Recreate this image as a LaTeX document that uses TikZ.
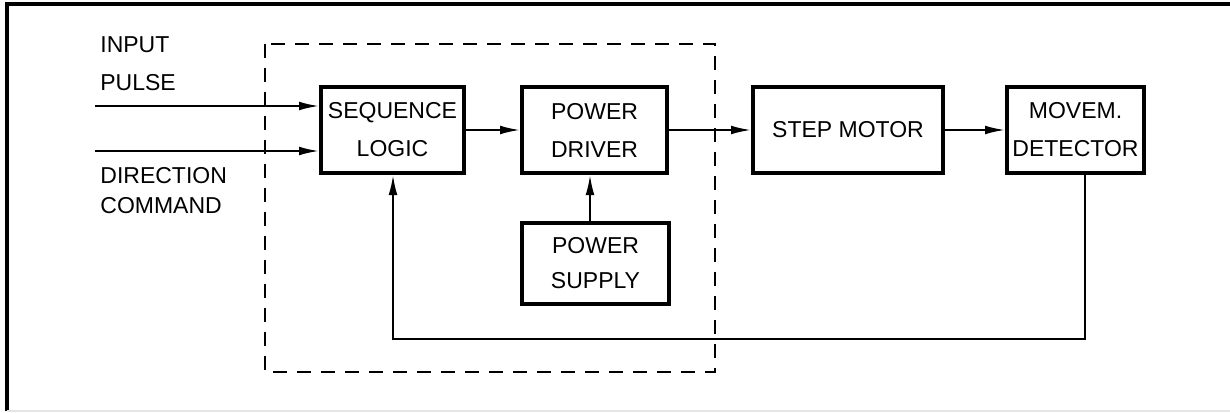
\documentclass[tikz,border=0pt]{standalone}
\usepackage{fontspec}
\setmainfont{Liberation Sans}
\usetikzlibrary{arrows.meta}

\begin{document}
\begin{tikzpicture}[x=0.5pt, y=-0.5pt,
      every node/.append style={font=\fontsize{11.5}{19}\selectfont},
      block/.style={draw, line width=2pt, inner sep=0pt, align=center,
                    minimum height=43pt},
      signal/.style={-{Latex[length=10pt,width=4.4pt]}, line width=1pt},
      label/.style={anchor=west, inner sep=0pt}]
    \useasboundingbox (0,0) rectangle (1230,412);
    % frame
    \draw[line width=1.6pt] (7,411) -- (7,4) -- (1230,4);
    \draw[black!10, line width=0.6pt] (7,411) -- (1230,411);
    % dashed controller box
    \draw[dashed, dash pattern=on 7pt off 5pt, line width=1pt] (265,44) rectangle (715,372);
    % blocks
    \node (seq) [block, minimum width=71.5pt] at (392.5,130) {SEQUENCE\\LOGIC};
    \node (pd)  [block, minimum width=72.5pt] at (594.5,130) {POWER\\DRIVER};
    \node (ps)  [block, minimum width=73.5pt, minimum height=40.5pt, font=\fontsize{11.5}{17.5}\selectfont] at (595.5,263.5) {POWER\\SUPPLY};
    \node (sm)  [block, minimum width=95pt] at (848,130) {STEP MOTOR};
    \node (md)  [block, minimum width=68.5pt] at (1075.5,130) {MOVEM.\\DETECTOR};
    % inputs
    \node (inp) [label] at (100,45) {INPUT};
    \node (pul) [label] at (100,83) {PULSE};
    \node (dir) [label] at (100,176) {DIRECTION};
    \node (cmd) [label] at (100,206) {COMMAND};
    \coordinate (pulseIn) at (95,106);
    \coordinate (dirIn) at (95,151);
    \draw[signal] (pulseIn) -- (pulseIn -| seq.west);
    \draw[signal] (dirIn) -- (dirIn -| seq.west);
    % forward path
    \draw[signal] (seq) -- (pd);
    \draw[signal] (pd) -- (sm);
    \draw[signal] (sm) -- (md);
    \coordinate (supply) at (590,0);
    \draw[signal] (supply |- ps.north) -- (supply |- pd.south);
    % feedback
    \coordinate (fbRight) at (1085,339);
    \coordinate (fbLeft) at (393,339);
    \draw[signal] (fbRight |- md.south) -- (fbRight) -- (fbLeft) -- (fbLeft |- seq.south);
\end{tikzpicture}
\end{document}
